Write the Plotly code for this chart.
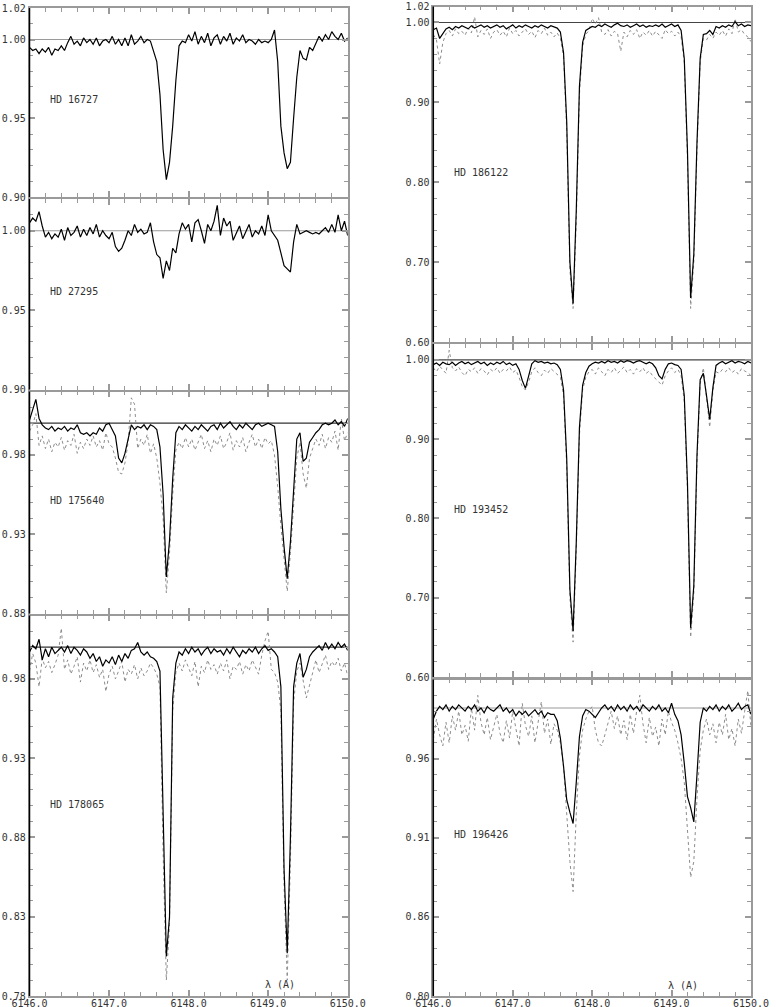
import plotly.graph_objects as go

# wavelength grid (A), shared by every spectrum
WAVE = [
    6146.00, 6146.04, 6146.08, 6146.12, 6146.16, 6146.20, 6146.24, 6146.28, 6146.32, 6146.36,
    6146.40, 6146.44, 6146.48, 6146.52, 6146.56, 6146.60, 6146.64, 6146.68, 6146.72, 6146.76,
    6146.80, 6146.84, 6146.88, 6146.92, 6146.96, 6147.00, 6147.04, 6147.08, 6147.12, 6147.16,
    6147.20, 6147.24, 6147.28, 6147.32, 6147.36, 6147.40, 6147.44, 6147.48, 6147.52, 6147.56,
    6147.60, 6147.64, 6147.68, 6147.72, 6147.76, 6147.80, 6147.84, 6147.88, 6147.92, 6147.96,
    6148.00, 6148.04, 6148.08, 6148.12, 6148.16, 6148.20, 6148.24, 6148.28, 6148.32, 6148.36,
    6148.40, 6148.44, 6148.48, 6148.52, 6148.56, 6148.60, 6148.64, 6148.68, 6148.72, 6148.76,
    6148.80, 6148.84, 6148.88, 6148.92, 6148.96, 6149.00, 6149.04, 6149.08, 6149.12, 6149.16,
    6149.20, 6149.24, 6149.28, 6149.32, 6149.36, 6149.40, 6149.44, 6149.48, 6149.52, 6149.56,
    6149.60, 6149.64, 6149.68, 6149.72, 6149.76, 6149.80, 6149.84, 6149.88, 6149.92, 6149.96,
    6150.00,
]

HD16727_SOLID = [
    0.995, 0.993, 0.994, 0.991, 0.994, 0.992, 0.995, 0.990, 0.994, 0.993,
    0.996, 0.993, 0.998, 1.002, 0.997, 0.999, 0.996, 1.001, 0.998, 1.000,
    0.997, 1.001, 0.996, 0.999, 1.000, 0.998, 1.002, 0.997, 1.000, 0.996,
    1.001, 0.996, 1.003, 0.997, 0.999, 1.002, 0.998, 1.000, 0.999, 0.993,
    0.986, 0.965, 0.930, 0.911, 0.922, 0.945, 0.974, 0.996, 0.999, 0.998,
    1.003, 0.999, 1.005, 0.997, 1.002, 0.998, 1.004, 0.996, 1.001, 1.003,
    0.997, 1.002, 0.999, 1.004, 0.997, 1.001, 0.999, 1.003, 0.998, 1.000,
    0.999, 0.997, 1.000, 0.998, 0.999, 0.998, 1.000, 1.006, 0.986, 0.945,
    0.928, 0.918, 0.922, 0.950, 0.976, 0.993, 0.988, 0.987, 0.995, 0.993,
    0.998, 1.002, 0.999, 1.003, 1.000, 1.005, 1.002, 1.000, 1.004, 0.999, 1.001,
]

HD27295_SOLID = [
    1.005, 1.008, 1.006, 1.012, 1.003, 0.996, 0.999, 0.995, 0.998, 0.996,
    1.001, 0.994, 1.002, 0.997, 0.999, 1.003, 0.996, 1.001, 0.997, 1.002,
    0.998, 1.004, 0.996, 1.000, 0.997, 0.995, 0.999, 0.990, 0.987, 0.989,
    0.994, 1.000, 0.997, 1.004, 0.999, 1.001, 0.998, 0.999, 1.005, 0.993,
    0.985, 0.983, 0.970, 0.981, 0.975, 0.989, 0.986, 0.998, 1.005, 1.001,
    1.004, 0.993, 1.005, 1.007, 1.000, 0.992, 1.004, 1.000, 1.006, 1.016,
    0.997, 1.008, 1.003, 1.006, 0.994, 0.998, 1.003, 0.995, 0.999, 1.004,
    0.996, 1.000, 0.998, 1.003, 0.997, 1.010, 1.000, 0.997, 0.994, 0.986,
    0.978, 0.976, 0.974, 0.993, 1.004, 0.998, 0.999, 1.000, 0.999, 0.998,
    0.999, 0.998, 1.000, 1.002, 0.999, 1.004, 0.999, 1.010, 1.000, 1.006, 0.997,
]

HD175640_SOLID = [
    1.002, 1.008, 1.015, 1.003, 0.999, 0.997, 0.996, 0.998, 0.995, 0.997,
    0.996, 0.998, 0.995, 0.997, 0.996, 0.999, 0.994, 0.993, 0.994, 0.992,
    0.994, 0.993, 0.997, 0.995, 0.999, 1.000, 0.996, 0.992, 0.978, 0.975,
    0.981, 0.991, 0.999, 0.996, 0.998, 0.997, 0.999, 0.996, 0.999, 0.998,
    0.996, 0.985, 0.955, 0.903, 0.926, 0.965, 0.994, 0.998, 0.996, 0.999,
    0.997, 0.995, 0.998, 0.996, 0.999, 0.997, 0.995, 0.998, 0.999, 0.996,
    1.000, 0.997, 0.999, 1.001, 0.998, 0.996, 0.999, 0.997, 1.000, 0.998,
    0.996, 0.999, 1.000, 0.998, 0.999, 1.000, 0.999, 0.998, 0.982, 0.946,
    0.922, 0.902, 0.925, 0.958, 0.990, 0.994, 0.976, 0.978, 0.988, 0.991,
    0.994, 0.996, 0.999, 1.000, 0.999, 1.000, 1.002, 0.999, 1.001, 0.998, 1.003,
]
HD175640_DOTTED = [
    0.995, 0.999, 1.006, 0.986, 0.992, 0.984, 0.990, 0.982, 0.988, 0.985,
    0.991, 0.983, 0.989, 0.986, 0.993, 0.981, 0.988, 0.984, 0.990, 0.986,
    0.992, 0.985, 0.989, 0.983, 0.994, 0.987, 0.985, 0.978, 0.969, 0.968,
    0.975, 0.988, 1.016, 1.012, 0.984, 0.990, 0.986, 0.993, 0.981, 0.987,
    0.978, 0.962, 0.940, 0.893, 0.918, 0.955, 0.983, 0.988, 0.984, 0.991,
    0.985, 0.990, 0.983, 0.988, 0.993, 0.984, 0.989, 0.982, 0.990, 0.986,
    0.992, 0.984, 0.988, 0.994, 0.983, 0.989, 0.985, 0.991, 0.982, 0.988,
    0.993, 0.985, 0.990, 0.984, 0.991, 0.987, 0.989, 0.980, 0.960, 0.935,
    0.915, 0.894, 0.918, 0.950, 0.978, 0.988, 0.968, 0.959, 0.978, 0.984,
    0.990, 0.986, 0.993, 0.984, 0.991, 0.988, 0.995, 0.983, 1.003, 0.989, 0.994,
]

HD178065_SOLID = [
    0.997, 1.001, 0.999, 1.005, 0.992, 0.999, 0.994, 1.000, 0.996, 0.998,
    1.000, 0.997, 1.001, 0.996, 1.000, 0.998, 0.995, 0.999, 0.997, 0.993,
    0.996, 0.991, 0.994, 0.988, 0.992, 0.990, 0.994, 0.989, 0.995, 0.991,
    0.996, 0.993, 0.998, 0.999, 1.003, 0.997, 0.995, 0.997, 0.994, 0.993,
    0.991, 0.985, 0.885, 0.805, 0.830, 0.968, 0.990, 0.997, 0.995, 0.999,
    0.996, 1.000, 0.997, 0.999, 0.995, 0.998, 1.000, 0.996, 0.999, 0.997,
    0.998, 0.995, 0.999, 0.996, 1.000, 0.997, 0.994, 0.998, 0.996, 0.999,
    0.997, 1.000, 0.996, 0.999, 1.001, 0.998, 0.999, 0.997, 0.994, 0.975,
    0.860, 0.807, 0.880, 0.975, 0.990, 0.996, 0.981, 0.986, 0.994, 0.997,
    0.999, 1.001, 0.998, 1.003, 0.999, 1.002, 0.999, 1.003, 1.000, 1.002, 0.998,
]
HD178065_DOTTED = [
    0.985, 0.996, 0.990, 0.975, 0.993, 0.987, 0.991, 0.984, 0.989, 0.995,
    1.012, 0.986, 0.992, 0.983, 0.988, 0.994, 0.978, 0.990, 0.985, 0.992,
    0.984, 0.989, 0.981, 0.986, 0.972, 0.983, 0.988, 0.980, 0.985, 0.991,
    0.978, 0.986, 0.983, 0.989, 0.980, 0.987, 0.982, 0.985, 0.990, 0.987,
    0.983, 0.975, 0.870, 0.790, 0.825, 0.960, 0.984, 0.990, 0.985, 0.992,
    0.987, 0.982, 0.991, 0.975, 0.988, 0.984, 0.992, 0.986, 0.989, 0.983,
    0.990, 0.985, 0.992, 0.980, 0.988, 0.986, 0.991, 0.983, 0.989, 0.985,
    0.992, 0.987, 0.983, 0.995, 1.004, 1.010, 0.986, 0.984, 0.978, 0.960,
    0.850, 0.790, 0.865, 0.965, 0.985, 0.990, 0.978, 0.968, 0.976, 0.985,
    0.992, 0.984, 0.990, 0.995, 0.986, 0.991, 0.988, 0.993, 0.985, 0.990, 0.982,
]

HD186122_SOLID = [
    0.991, 0.993, 0.980, 0.986, 0.992, 0.994, 0.991, 0.995, 0.993, 0.996,
    0.994, 0.992, 0.996, 0.993, 0.995, 0.997, 0.994, 0.996, 0.993, 0.995,
    0.997, 0.994, 0.996, 0.992, 0.995, 0.997, 0.993, 0.996, 0.994, 0.997,
    0.995, 0.993, 0.996, 0.994, 0.997, 0.995, 0.993, 0.996, 0.994, 0.993,
    0.988, 0.962, 0.875, 0.700, 0.648, 0.765, 0.920, 0.975, 0.990, 0.993,
    0.995, 0.994, 0.997, 0.995, 0.998, 0.996, 0.994, 0.997, 0.999, 0.996,
    0.995, 0.997, 0.994, 0.996, 0.998, 0.995, 0.997, 0.994, 0.996, 0.995,
    0.997, 0.995, 0.998, 0.994, 0.996, 0.998, 0.995, 0.997, 0.990, 0.955,
    0.840, 0.655, 0.710, 0.850, 0.955, 0.985, 0.986, 0.990, 0.985, 0.995,
    0.993, 0.996, 0.994, 0.997, 0.995, 1.001, 0.996, 0.998, 0.995, 0.997, 0.996,
]
HD186122_DOTTED = [
    0.985, 0.978, 0.948, 0.975, 0.986, 0.990, 0.983, 0.992, 0.986, 0.989,
    0.984, 0.993, 0.987, 1.007, 0.982, 0.990, 0.985, 0.992, 0.980, 0.988,
    0.991, 0.984, 0.989, 0.982, 0.993, 0.986, 0.990, 0.983, 0.988, 0.992,
    0.985, 0.989, 0.981, 0.990, 0.986, 0.993, 0.984, 0.988, 0.982, 0.987,
    0.980, 0.958, 0.865, 0.690, 0.642, 0.750, 0.910, 0.970, 0.985, 0.990,
    1.005, 0.998, 1.006, 0.988, 0.985, 0.991, 0.983, 0.989, 0.986, 0.964,
    0.988, 0.982, 0.990, 0.985, 0.991, 0.980, 0.988, 0.984, 0.990, 0.983,
    0.989, 0.985, 0.980, 0.991, 0.986, 0.989, 0.983, 0.988, 0.982, 0.950,
    0.830, 0.642, 0.700, 0.840, 0.950, 0.980, 0.978, 0.985, 0.980, 0.988,
    0.984, 0.990, 0.983, 0.992, 0.986, 1.005, 0.988, 0.991, 0.985, 0.982, 0.976,
]

HD193452_SOLID = [
    0.994, 0.996, 0.993, 0.997, 0.995, 0.994, 0.997, 0.993, 0.996, 0.998,
    0.995, 0.997, 0.994, 0.996, 0.998, 0.995, 0.997, 0.993, 0.996, 0.994,
    0.997, 0.995, 0.998, 0.994, 0.996, 0.993, 0.995, 0.988, 0.974, 0.964,
    0.978, 0.995, 0.999, 0.997, 0.998, 0.996, 0.997, 0.995, 0.996, 0.994,
    0.988, 0.962, 0.875, 0.710, 0.658, 0.770, 0.915, 0.968, 0.984, 0.992,
    0.995, 0.997, 0.996, 0.998, 0.996, 0.999, 0.997, 0.998, 0.996, 0.999,
    0.997, 0.999, 0.998, 0.996, 0.998, 0.999, 0.997, 0.995, 0.997, 0.995,
    0.990, 0.980, 0.976, 0.988, 0.995, 0.996, 0.994, 0.993, 0.988, 0.955,
    0.845, 0.662, 0.715, 0.880, 0.975, 0.983, 0.955, 0.925, 0.965, 0.993,
    0.996, 0.998, 0.995, 0.997, 0.999, 0.996, 0.998, 0.997, 0.995, 0.998, 0.996,
]
HD193452_DOTTED = [
    0.990, 0.985, 0.992, 0.987, 0.983, 1.012, 0.990, 0.986, 0.991, 0.984,
    0.980, 0.988, 0.985, 0.990, 0.983, 0.989, 0.986, 0.981, 0.988, 0.985,
    0.990, 0.983, 0.988, 0.986, 0.991, 0.984, 0.987, 0.978, 0.966, 0.962,
    0.972, 0.985, 0.990, 0.984, 0.980, 0.987, 0.983, 0.989, 0.985, 0.982,
    0.978, 0.955, 0.865, 0.700, 0.644, 0.760, 0.905, 0.962, 0.978, 0.985,
    0.988, 0.982, 0.990, 0.985, 0.980, 0.988, 0.984, 0.990, 0.983, 0.987,
    0.991, 0.984, 0.988, 0.982, 0.989, 0.985, 0.990, 0.983, 0.986, 0.980,
    0.976, 0.972, 0.968, 0.980, 0.986, 0.990, 0.984, 0.988, 0.980, 0.948,
    0.835, 0.650, 0.705, 0.870, 0.970, 0.990, 0.950, 0.915, 0.960, 0.985,
    0.983, 0.988, 0.985, 0.990, 0.984, 0.987, 0.982, 0.989, 0.986, 0.984, 0.980,
]

HD196426_SOLID = [
    0.985, 0.990, 0.993, 0.991, 0.994, 0.990, 0.993, 0.991, 0.994, 0.992,
    0.990, 0.993, 0.991, 0.994, 0.990, 0.992, 0.989, 0.993, 0.991, 0.990,
    0.992, 0.994, 0.990, 0.992, 0.989, 0.991, 0.987, 0.990, 0.988, 0.990,
    0.987, 0.989, 0.991, 0.988, 0.990, 0.986, 0.989, 0.988, 0.988, 0.984,
    0.973, 0.955, 0.934, 0.926, 0.919, 0.945, 0.974, 0.987, 0.991, 0.990,
    0.988, 0.986, 0.989, 0.992, 0.994, 0.991, 0.993, 0.990, 0.994, 0.991,
    0.993, 0.990, 0.994, 0.991, 0.993, 0.990, 0.994, 0.992, 0.990, 0.993,
    0.991, 0.994, 0.990, 0.992, 0.989, 0.995, 0.988, 0.984, 0.975, 0.957,
    0.936, 0.929, 0.920, 0.950, 0.983, 0.992, 0.990, 0.993, 0.991, 0.994,
    0.990, 0.993, 0.991, 0.994, 0.990, 0.992, 0.995, 0.991, 0.993, 0.994, 0.988,
]
HD196426_DOTTED = [
    0.972, 0.985, 0.975, 0.968, 0.983, 0.970, 0.987, 0.978, 0.990, 0.975,
    0.981, 0.971, 0.992, 0.978, 1.000, 0.983, 0.975, 0.986, 0.972, 0.980,
    0.988, 0.976, 0.970, 0.984, 0.973, 0.990, 0.979, 0.968, 0.995, 0.981,
    0.974, 0.987, 0.970, 0.983, 0.996, 0.976, 0.985, 0.969, 0.982, 0.978,
    0.970, 0.955, 0.928, 0.895, 0.876, 0.925, 0.962, 0.978, 0.985, 0.990,
    0.993, 0.978, 0.970, 0.968, 0.975, 0.983, 0.990, 0.979, 0.987, 0.975,
    0.984, 0.972, 0.988, 0.976, 0.990, 1.000, 0.982, 0.970, 0.986, 0.974,
    0.980, 0.968, 0.985, 0.975, 0.990, 0.983, 0.978, 0.970, 0.960, 0.945,
    0.915, 0.885, 0.895, 0.935, 0.965, 0.978, 0.985, 0.975, 0.982, 0.970,
    0.983, 0.975, 0.988, 0.972, 0.979, 0.968, 0.985, 0.976, 0.990, 1.003, 0.980,
]

# y tick values / labels for each panel
TICKS_16727 = [0.90, 0.95, 1.00, 1.02]
TICKS_27295 = [0.90, 0.95, 1.00]
TICKS_175640 = [0.88, 0.93, 0.98]
TICKS_178065 = [0.78, 0.83, 0.88, 0.93, 0.98]
TICKS_186122 = [0.60, 0.70, 0.80, 0.90, 1.00, 1.02]
TICKS_193452 = [0.60, 0.70, 0.80, 0.90, 1.00]
TICKS_196426 = [0.81, 0.86, 0.91, 0.96]
TEXT_196426 = ["0.80", "0.86", "0.91", "0.96"]

W, H = 776, 1007
FRAME = "#9a9a9a"
FONT = "DejaVu Sans Mono"


def dom(top, bottom):
    """pixel rows -> paper domain"""
    return [1 - bottom / H, 1 - top / H]


LEFT = [29.5 / W, 347.7 / W]
RIGHT = [433.3 / W, 751.0 / W]

panels = [
    dict(name="HD 16727", solid=HD16727_SOLID, dotted=None, xdom=LEFT, ydom=dom(8, 197),
         yrange=[0.90, 1.02], ticks=TICKS_16727, text=None, minor=0.01, label_y=0.962,
         cont=1.0, cont_color=FRAME, bottom=False),
    dict(name="HD 27295", solid=HD27295_SOLID, dotted=None, xdom=LEFT, ydom=dom(199, 389.5),
         yrange=[0.90, 1.02], ticks=TICKS_27295, text=None, minor=0.01, label_y=0.962,
         cont=1.0, cont_color=FRAME, bottom=False),
    dict(name="HD 175640", solid=HD175640_SOLID, dotted=HD175640_DOTTED, xdom=LEFT,
         ydom=dom(391.5, 613.5), yrange=[0.88, 1.02], ticks=TICKS_175640, text=None,
         minor=0.01, label_y=0.951, cont=1.0, cont_color="#333333", bottom=False),
    dict(name="HD 178065", solid=HD178065_SOLID, dotted=HD178065_DOTTED, xdom=LEFT,
         ydom=dom(615.5, 996), yrange=[0.78, 1.02], ticks=TICKS_178065, text=None,
         minor=0.01, label_y=0.901, cont=1.0, cont_color="#333333", bottom=True, lam_y=0.787),
    dict(name="HD 186122", solid=HD186122_SOLID, dotted=HD186122_DOTTED, xdom=RIGHT,
         ydom=dom(6.5, 342), yrange=[0.60, 1.02], ticks=TICKS_186122, text=None,
         minor=0.02, label_y=0.8125, cont=1.0, cont_color="#444444", bottom=False),
    dict(name="HD 193452", solid=HD193452_SOLID, dotted=HD193452_DOTTED, xdom=RIGHT,
         ydom=dom(344, 677), yrange=[0.60, 1.02], ticks=TICKS_193452, text=None,
         minor=0.02, label_y=0.811, cont=1.0, cont_color="#444444", bottom=False),
    dict(name="HD 196426", solid=HD196426_SOLID, dotted=HD196426_DOTTED, xdom=RIGHT,
         ydom=dom(679.5, 996), yrange=[0.81, 1.01], ticks=TICKS_196426, text=TEXT_196426,
         minor=0.01, label_y=0.912, cont=0.992, cont_color=FRAME, bottom=True, lam_y=0.8165),
]

fig = go.Figure()
axes = {}
shapes = []
annotations = []

for k, p in enumerate(panels, start=1):
    sfx = "" if k == 1 else str(k)
    xa, ya = "x" + sfx, "y" + sfx

    if p["dotted"] is not None:
        fig.add_trace(go.Scatter(
            x=WAVE, y=p["dotted"], xaxis=xa, yaxis=ya, mode="lines",
            line=dict(color="#8c8c8c", width=1, dash="dot"), hoverinfo="skip",
        ))
    fig.add_trace(go.Scatter(
        x=WAVE, y=p["solid"], xaxis=xa, yaxis=ya, mode="lines",
        line=dict(color="black", width=1.2), hoverinfo="skip",
    ))

    axes["xaxis" + sfx] = dict(
        domain=p["xdom"], anchor=ya, range=[6146.0, 6150.0],
        tickmode="linear", tick0=6146.0, dtick=1.0, tickformat=".1f",
        ticks="inside", ticklen=6, tickwidth=1.5, tickcolor=FRAME,
        minor=dict(ticks="inside", ticklen=4, tickwidth=1, tickcolor=FRAME,
                   tick0=6146.0, dtick=0.2),
        showline=True, linecolor=FRAME, linewidth=1.5, mirror="ticks",
        showgrid=False, zeroline=False, showticklabels=p["bottom"],
        ticklabelstandoff=-3,
        tickfont=dict(family=FONT, size=10, color="#333333"),
    )
    axes["yaxis" + sfx] = dict(
        domain=p["ydom"], anchor=xa, range=p["yrange"],
        tickmode="array", tickvals=p["ticks"],
        ticktext=p["text"] or ["%.2f" % v for v in p["ticks"]],
        ticks="inside", ticklen=6, tickwidth=1.5, tickcolor=FRAME,
        minor=dict(ticks="inside", ticklen=4, tickwidth=1, tickcolor=FRAME,
                   tick0=p["yrange"][0], dtick=p["minor"]),
        showline=True, linecolor=FRAME, linewidth=1.5, mirror="ticks",
        showgrid=False, zeroline=False,
        tickfont=dict(family=FONT, size=10, color="#333333"),
    )

    # continuum reference line
    shapes.append(dict(
        type="line", xref=xa + " domain", x0=0, x1=1, yref=ya, y0=p["cont"], y1=p["cont"],
        line=dict(color=p["cont_color"], width=1.2), layer="below",
    ))
    # dark left edge of the frame
    shapes.append(dict(
        type="line", xref=xa + " domain", x0=0, x1=0, yref=ya + " domain", y0=0, y1=1,
        line=dict(color="black", width=1.5),
    ))

    annotations.append(dict(
        x=6146.23, y=p["label_y"], xref=xa, yref=ya, text=p["name"], showarrow=False,
        xanchor="left", yanchor="middle", font=dict(family=FONT, size=10, color="#333333"),
    ))
    if p["bottom"]:
        annotations.append(dict(
            x=6149.15, y=p["lam_y"], xref=xa, yref=ya, text="λ (A)", showarrow=False,
            xanchor="center", yanchor="middle", font=dict(family=FONT, size=10, color="#333333"),
        ))

fig.update_layout(
    template="none",
    width=W,
    height=H,
    margin=dict(l=0, r=0, t=0, b=0),
    paper_bgcolor="white",
    plot_bgcolor="white",
    showlegend=False,
    shapes=shapes,
    annotations=annotations,
    **axes,
)

# page body has a default 8px margin; drop it so the figure sits at the window corner
fig.write_html(
    "out.html",
    config={"displayModeBar": False},
    post_script="document.body.style.margin='0px';",
)
